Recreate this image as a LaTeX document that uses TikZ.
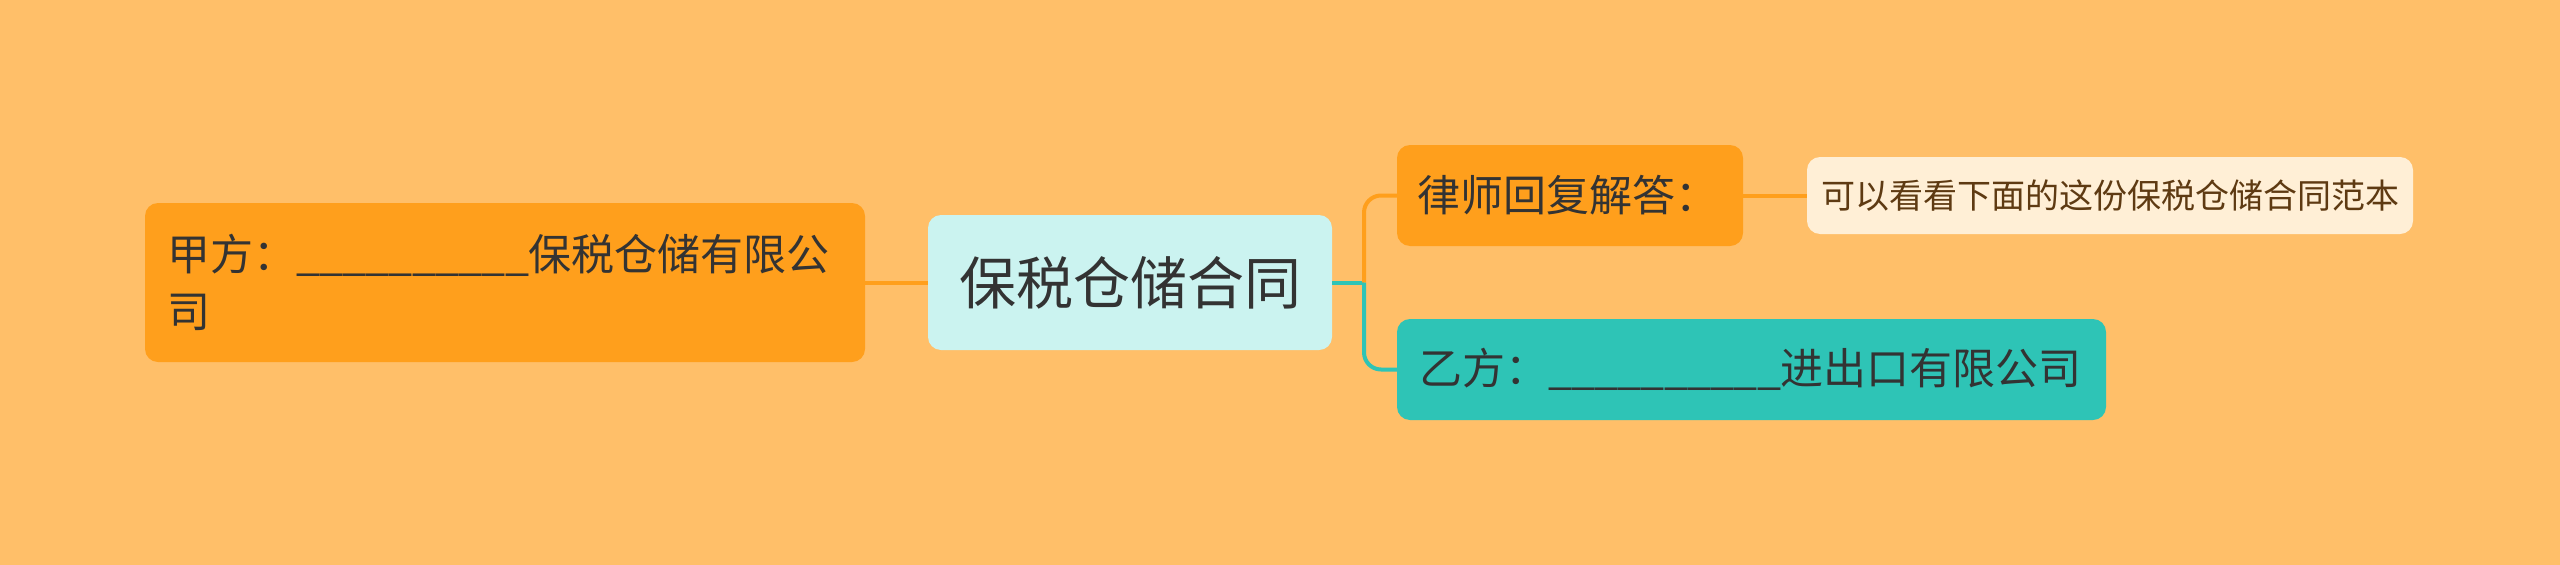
\documentclass[tikz,border=0pt]{standalone}
\usepackage{fontspec}
\newfontfamily\cjk{Noto Sans CJK SC}
\definecolor{bg}{HTML}{FFBF69}
\definecolor{org}{HTML}{FF9F1C}
\definecolor{cen}{HTML}{CBF3F0}
\definecolor{tea}{HTML}{2EC4B6}
\definecolor{lite}{HTML}{FFEFD6}
\definecolor{ink}{HTML}{333333}
\definecolor{brn}{HTML}{5E3A12}
\newcommand\blank{{\_\kern-0.8pt\_\kern-0.8pt\_\kern-0.8pt\_\kern-0.8pt\_\kern-0.8pt\_\kern-0.8pt\_\kern-0.8pt\_\kern-0.8pt\_\kern-0.8pt\_\kern-0.8pt}}
\tikzset{
  box/.style={rounded corners=13pt, inner sep=0pt, text=ink, font=\cjk},
  link/.style={line width=4pt},
}
\begin{document}
\begin{tikzpicture}[x=1pt,y=-1pt]
\fill[bg] (0,0) rectangle (2560,565);
\useasboundingbox (0,0) rectangle (2560,565);
\node[box, fill=cen, minimum width=404pt, minimum height=135pt, align=center,
  font=\cjk\fontsize{57}{68}\selectfont] (root) at (1130,282.5) {保税仓储合同};
\node[box, fill=org, minimum width=720pt, minimum height=159pt, text width=676pt, align=left,
  font=\cjk\fontsize{43}{57}\selectfont] (left) at (505,282.5) {甲方：\blank 保税仓储有限公\\司};
\node[box, fill=org, minimum width=346pt, minimum height=101pt, text width=306pt, align=left,
  font=\cjk\fontsize{43}{52}\selectfont] (lawyer) at (1570,195.5) {律师回复解答：};
\node[box, fill=lite, text=brn, minimum width=606pt, minimum height=77pt, align=center,
  font=\cjk\fontsize{34}{40}\selectfont] (note) at (2110,195.5) {可以看看下面的这份保税仓储合同范本};
\node[box, fill=tea, minimum width=709pt, minimum height=101pt, text width=665pt, align=left,
  font=\cjk\fontsize{43}{52}\selectfont] (yi) at (1751.5,369.5) {乙方：\blank 进出口有限公司};
\coordinate (j) at (1364,282.5);
\draw[link, org] (left.east) -- (root.west);
\draw[link, tea] (root.east) -- (j);
\draw[link, org, rounded corners=17pt] (j) |- (lawyer.west);
\draw[link, tea, rounded corners=17pt] (j) |- (yi.west);
\draw[link, org] (lawyer.east) -- (note.west);
\end{tikzpicture}
\end{document}
